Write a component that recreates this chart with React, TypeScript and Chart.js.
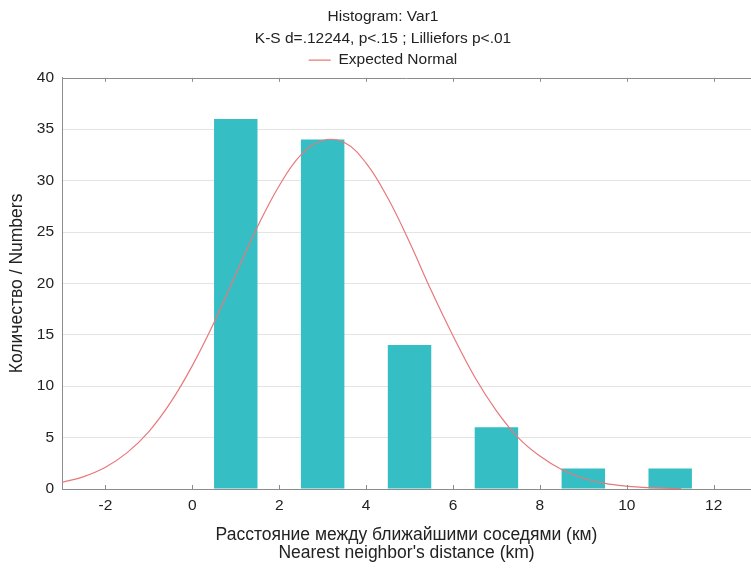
import { useEffect, useRef } from 'react';
import { Chart, registerables } from 'chart.js';

Chart.register(...registerables);

// ---- data ----
const binCenters = [1, 3, 5, 7, 9, 11];
const binCounts = [36, 34, 14, 6, 2, 2];

const curveX = [-3, -2.5, -2, -1.5, -1, -0.5, 0, 0.5, 1, 1.5, 2, 2.5, 3, 3.5, 4, 4.5, 5, 5.5, 6, 6.5, 7, 7.5, 8, 8.5, 9, 9.5, 10, 10.5, 11, 11.25];
const curveY = [0.65, 1.21, 2.12, 3.54, 5.59, 8.42, 12.0, 16.2, 20.9, 25.5, 29.5, 32.5, 33.9, 33.7, 31.7, 28.3, 24.0, 19.3, 14.9, 10.9, 7.6, 5.0, 3.2, 1.9, 1.05, 0.55, 0.28, 0.13, 0.06, 0.04];

const xTickValues = [-2, 0, 2, 4, 6, 8, 10, 12];
const yTickValues = [0, 5, 10, 15, 20, 25, 30, 35, 40];

const titleText = 'Histogram: Var1';
const subtitleText = 'K-S d=.12244, p<.15 ; Lilliefors p<.01';
const legendText = 'Expected Normal';
const xTitle = ['Расстояние между ближайшими соседями (км)', "Nearest neighbor's distance (km)"];
const yTitle = 'Количество / Numbers';

const FONT = "'Liberation Sans', Arial, sans-serif";
const TEXT = '#222222';
const AXIS = '#8c8c8c';
const BAR = '#35bec4';
const CURVE = '#e8787a';

const framePlugin = {
  id: 'frameTicks',
  afterDraw(chart: any) {
    const { ctx, chartArea } = chart;
    const { left, right, top, bottom } = chartArea;
    const x = chart.scales.x;
    ctx.save();
    ctx.strokeStyle = AXIS;
    ctx.lineWidth = 1;
    ctx.beginPath();
    ctx.moveTo(left, Math.round(top) + 0.5);
    ctx.lineTo(right, Math.round(top) + 0.5);
    for (const v of xTickValues) {
      const px = Math.round(x.getPixelForValue(v)) + 0.5;
      ctx.moveTo(px, top);
      ctx.lineTo(px, top + 4);
      ctx.moveTo(px, bottom);
      ctx.lineTo(px, bottom - 4);
    }
    ctx.stroke();
    ctx.restore();
  },
};

export default function App() {
  const ref = useRef<HTMLCanvasElement | null>(null);

  useEffect(() => {
    if (!ref.current) return;
    Chart.defaults.font.family = FONT;
    const chart = new Chart(ref.current, {
      type: 'bar',
      data: {
        datasets: [
          {
            type: 'bar',
            label: 'Histogram',
            data: binCenters.map((c, i) => ({ x: c, y: binCounts[i] })),
            backgroundColor: BAR,
            borderWidth: 0,
            barPercentage: 0.5,
            categoryPercentage: 1,
            grouped: false,
            order: 1,
          } as any,
          {
            type: 'line',
            label: legendText,
            data: curveX.map((c, i) => ({ x: c, y: curveY[i] })),
            borderColor: CURVE,
            backgroundColor: CURVE,
            borderWidth: 1.2,
            pointRadius: 0,
            tension: 0.4,
            fill: false,
            order: 0,
          } as any,
        ],
      },
      options: {
        responsive: false,
        animation: false,
        layout: { padding: { left: 0, top: 0, bottom: 0, right: -15 } },
        plugins: {
          title: {
            display: true,
            text: titleText,
            color: TEXT,
            font: { family: FONT, size: 15.5, weight: 'normal' },
            padding: { top: 7.7, bottom: 2.9 },
          },
          subtitle: {
            display: true,
            text: subtitleText,
            color: TEXT,
            font: { family: FONT, size: 15.5, weight: 'normal' },
            padding: { top: 0, bottom: 0 },
          },
          legend: {
            display: true,
            labels: {
              filter: (item: any) => item.datasetIndex === 1,
              usePointStyle: true,
              pointStyle: 'line',
              pointStyleWidth: 22,
              color: TEXT,
              font: { family: FONT, size: 15.5 },
              padding: 4.5,
            },
          },
          tooltip: { enabled: false },
        },
        scales: {
          x: {
            type: 'linear',
            offset: false,
            min: -3,
            max: 12.86,
            afterBuildTicks: (s: any) => {
              s.ticks = xTickValues.map((v) => ({ value: v }));
            },
            afterFit: (s: any) => {
              s.height = 79;
            },
            ticks: {
              color: TEXT,
              font: { family: FONT, size: 15.5 },
              padding: 7.5,
              maxRotation: 0,
              autoSkip: false,
              callback: (v: any) => String(v),
            },
            grid: { display: false, drawTicks: false, offset: false },
            border: { display: true, color: AXIS, width: 1 },
            title: {
              display: true,
              text: xTitle,
              color: TEXT,
              font: { family: FONT, size: 17.5, lineHeight: 1.03 },
              padding: { top: 4, bottom: 6 },
            },
          },
          y: {
            min: 0,
            max: 40,
            afterBuildTicks: (s: any) => {
              s.ticks = yTickValues.map((v) => ({ value: v }));
            },
            afterFit: (s: any) => {
              s.width = 62;
            },
            ticks: {
              color: TEXT,
              font: { family: FONT, size: 15.5 },
              padding: 8,
            },
            grid: {
              drawTicks: false,
              color: (c: any) =>
                c.tick && c.tick.value > 0 && c.tick.value < 40 ? '#e4e4e4' : 'rgba(0,0,0,0)',
            },
            border: { display: true, color: AXIS, width: 1 },
            title: {
              display: true,
              text: yTitle,
              color: TEXT,
              font: { family: FONT, size: 17.5 },
              padding: { top: 7, bottom: 4 },
            },
          },
        },
      } as any,
      plugins: [framePlugin],
    });
    return () => chart.destroy();
  }, []);

  return (
    <canvas
      ref={ref}
      width={751}
      height={568}
      style={{ position: 'absolute', left: 0, top: 0, display: 'block' }}
    />
  );
}
